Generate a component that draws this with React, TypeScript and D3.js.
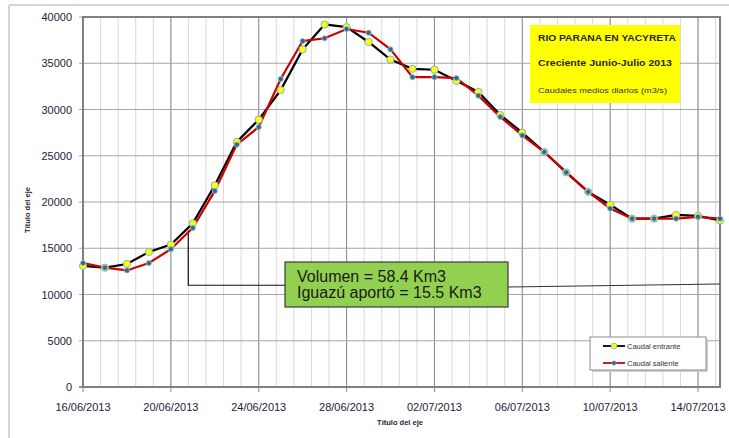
import React from 'react';
import * as d3 from 'd3';

const dates = [
  '16/06', '17/06', '18/06', '19/06', '20/06', '21/06', '22/06', '23/06', '24/06', '25/06',
  '26/06', '27/06', '28/06', '29/06', '30/06', '01/07', '02/07', '03/07', '04/07', '05/07',
  '06/07', '07/07', '08/07', '09/07', '10/07', '11/07', '12/07', '13/07', '14/07', '15/07',
];

const caudalEntrante = [
  13100, 12900, 13300, 14600, 15400, 17700, 21800, 26500, 28900, 32100,
  36500, 39200, 38900, 37300, 35400, 34400, 34300, 33100, 31900, 29400,
  27500, 25400, 23200, 21100, 19700, 18200, 18200, 18600, 18500, 18000,
];

const caudalSaliente = [
  13400, 12900, 12600, 13400, 14900, 17200, 21200, 26200, 28100, 33300,
  37400, 37700, 38700, 38300, 36500, 33500, 33500, 33400, 31500, 29200,
  27200, 25400, 23200, 21100, 19300, 18200, 18200, 18200, 18400, 18200,
];

const yTicks = [0, 5000, 10000, 15000, 20000, 25000, 30000, 35000, 40000];
const xTickLabels = ['16/06/2013', '20/06/2013', '24/06/2013', '28/06/2013', '02/07/2013', '06/07/2013', '10/07/2013', '14/07/2013'];

const titleLines = ['RIO PARANA EN YACYRETA', 'Creciente Junio-Julio 2013', 'Caudales medios diarios (m3/s)'];
const noteLines = ['Volumen = 58.4 Km3', 'Iguazú aportó = 15.5 Km3'];
const seriesNames = ['Caudal entrante', 'Caudal saliente'];

const parse = (s: string) => {
  const [d, m, y] = s.split('/').map(Number);
  return new Date(y || 2013, m - 1, d);
};

const W = 729;
const H = 438;
const font = '"Liberation Sans", Arial, sans-serif';
const textColor = '#1c2438';

export default function App() {
  const start = parse(dates[0]);
  const end = parse(dates[dates.length - 1]);
  const x = d3.scaleTime().domain([start, end]).range([83, 720]);
  const y = d3.scaleLinear().domain([0, 40000]).range([387, 17]);

  const dayMs = 24 * 3600 * 1000;
  // minor gridlines every 0.8 day, major every 4 days
  const minor: Date[] = [];
  for (let t = start.getTime(); t <= end.getTime() + 1; t += 0.8 * dayMs) minor.push(new Date(t));
  const major = xTickLabels.map(parse);

  const pts = (vals: number[]) => vals.map((v, i) => ({ d: parse(dates[i]), v }));
  const entr = pts(caudalEntrante);
  const sal = pts(caudalSaliente);
  const line = d3.line<{ d: Date; v: number }>().x((p) => x(p.d)).y((p) => y(p.v));

  const [x0, x1] = x.range();
  const [yb, yt] = y.range();

  // annotation anchor
  const ax = x(new Date(2013, 5, 20, 19));
  const ayTop = y(16900);
  const ayBot = y(11000);
  const box = { x: 285, y: 262, w: 223, h: 45 };

  return (
    <svg width={W} height={H} style={{ position: 'absolute', left: 0, top: 0, background: '#fff' }}>
      {/* outer frame */}
      <line x1={9} x2={9} y1={5} y2={H} stroke="#d4d4d4" strokeWidth={2} />
      <line x1={9} x2={W} y1={5} y2={5} stroke="#d4d4d4" strokeWidth={2} />

      {/* vertical grid */}
      {minor.map((d, i) => (
        <line key={'m' + i} x1={x(d)} x2={x(d)} y1={yt} y2={yb} stroke="#d9d9d9" strokeWidth={1} />
      ))}
      {major.map((d, i) => (
        <line key={'M' + i} x1={x(d)} x2={x(d)} y1={yt} y2={yb + 5} stroke="#8c8c8c" strokeWidth={1} />
      ))}
      {/* horizontal grid */}
      {yTicks.map((t) => (
        <line key={'h' + t} x1={x0 - 4} x2={x1} y1={y(t)} y2={y(t)} stroke="#a6a6a6" strokeWidth={1} />
      ))}

      {/* plot border */}
      <rect x={x0} y={yt} width={x1 - x0} height={yb - yt} fill="none" stroke="#7f7f7f" strokeWidth={2} />
      <line x1={x0 - 4} x2={x1} y1={yb} y2={yb} stroke="#7f7f7f" strokeWidth={1.5} />

      {/* y labels */}
      {yTicks.map((t) => (
        <text key={'yl' + t} x={72} y={y(t) + 4} textAnchor="end" fontFamily={font} fontSize={11} fill={textColor}>
          {t}
        </text>
      ))}
      {/* x labels */}
      {xTickLabels.map((s) => (
        <text key={s} x={x(parse(s))} y={411} textAnchor="middle" fontFamily={font} fontSize={11} fill={textColor}>
          {s}
        </text>
      ))}

      <text x={400} y={425} textAnchor="middle" fontFamily={font} fontSize={7.5} fontWeight="bold" fill={textColor}>
        Título del eje
      </text>
      <text
        transform={`translate(30,${(yt + yb) / 2 + 8}) rotate(-90)`}
        textAnchor="middle"
        fontFamily={font}
        fontSize={7.5}
        fontWeight="bold"
        fill={textColor}
      >
        Título del eje
      </text>

      {/* annotation connector */}
      <polyline points={`${ax},${ayTop} ${ax},${ayBot} ${box.x},${ayBot}`} fill="none" stroke="#111" strokeWidth={1.2} />
      <line x1={box.x + box.w} y1={287} x2={x1} y2={284} stroke="#333" strokeWidth={1.2} />

      {/* series */}
      <path d={line(entr) || ''} fill="none" stroke="#000" strokeWidth={2.2} />
      <path d={line(sal) || ''} fill="none" stroke="#cc0000" strokeWidth={2.2} />
      {entr.map((p, i) => (
        <circle key={'e' + i} cx={x(p.d)} cy={y(p.v)} r={3.6} fill="#ffff00" stroke="#7fb2c8" strokeWidth={1} />
      ))}
      {sal.map((p, i) => (
        <circle key={'s' + i} cx={x(p.d)} cy={y(p.v)} r={2.6} fill="#2f6b85" stroke="#9cc3d5" strokeWidth={0.8} />
      ))}

      {/* note box */}
      <rect x={box.x} y={box.y} width={box.w} height={box.h} fill="#92d050" stroke="#3a3a3a" strokeWidth={1.2} />
      {noteLines.map((s, i) => (
        <text key={s} x={box.x + 12} y={box.y + 20 + i * 16} fontFamily={font} fontSize={16} fill="#1a1a1a">
          {s}
        </text>
      ))}

      {/* title box */}
      <rect x={530} y={25} width={150} height={78} fill="#ffff00" />
      <text x={538} y={41} fontFamily={font} fontSize={9} fontWeight="bold" fill="#262626" textLength={138} lengthAdjust="spacingAndGlyphs">
        {titleLines[0]}
      </text>
      <text x={538} y={66} fontFamily={font} fontSize={9.5} fontWeight="bold" fill="#262626" textLength={134} lengthAdjust="spacingAndGlyphs">
        {titleLines[1]}
      </text>
      <text x={538} y={93} fontFamily={font} fontSize={8} fill="#333" textLength={129} lengthAdjust="spacingAndGlyphs">
        {titleLines[2]}
      </text>

      {/* legend */}
      <rect x={592} y={339} width={116} height={33} fill="#d0d0d0" />
      <rect x={590} y={337} width={116} height={33} fill="#fff" stroke="#8c8c8c" strokeWidth={1} />
      {seriesNames.map((s, i) => {
        const ly = 346 + i * 17;
        return (
          <g key={s}>
            <line x1={603} x2={625} y1={ly} y2={ly} stroke={i === 0 ? '#000' : '#cc0000'} strokeWidth={1.8} />
            {i === 0 ? (
              <circle cx={614} cy={ly} r={3} fill="#ffff00" stroke="#7fb2c8" strokeWidth={0.8} />
            ) : (
              <circle cx={614} cy={ly} r={2.2} fill="#2f6b85" stroke="#9cc3d5" strokeWidth={0.6} />
            )}
            <text x={627} y={ly + 2.5} fontFamily={font} fontSize={7.5} fill="#333">
              {s}
            </text>
          </g>
        );
      })}
    </svg>
  );
}
